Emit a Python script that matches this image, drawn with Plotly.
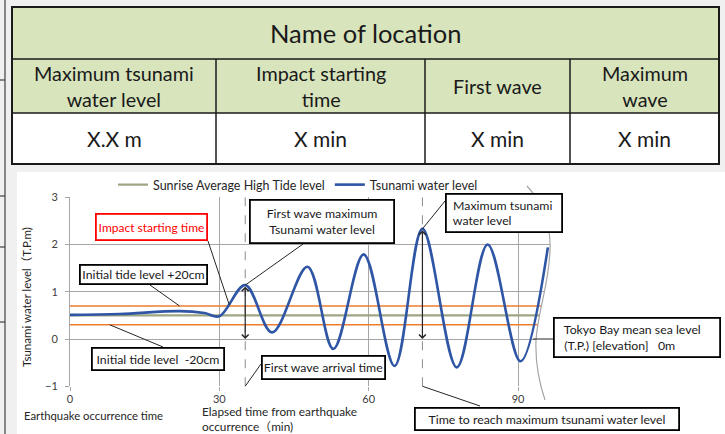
import plotly.graph_objects as go

W, H = 725, 434

# ---------------- data ----------------
time_min = [0, 10, 22, 27, 30, 35.2, 40.6, 47.7, 52.9, 59.0, 65.2, 70.8, 77.7, 83.9, 90.5, 96]
tsunami_level = [0.51, 0.53, 0.59, 0.55, 0.48, 1.14, 0.14, 1.53, -0.21, 1.79, -0.57, 2.33, -0.60, 2.00, -0.47, 1.94]
tide_span = [0, 100]
high_tide_level = [0.5, 0.5]
tide_plus_20cm = [0.7, 0.7]
tide_minus_20cm = [0.3, 0.3]
first_wave_time, first_wave_peak = 35.2, 1.14
max_wave_time, max_wave_peak = 70.8, 2.33
x_ticks = [0, 30, 60, 90]
y_ticks = [-1, 0, 1, 2, 3]
y_tick_text = ["\u22121", "0", "1", "2", "3"]

table_title = "Name of location"
table_headers = ["Maximum tsunami<br>water level", "Impact starting<br>time", "First wave", "Maximum<br>wave"]
table_values = ["X.X m", "X min", "X min", "X min"]

FONT = "Lato, 'Noto Sans CJK JP', sans-serif"
NB = "&nbsp;"

# ---------------- geometry helpers (pixel -> paper) ----------------
def px(x):
    return x / W

def py(y):
    return 1 - y / H

X0, XPM = 70, 448 / 90
Y0, YPU = 339, 47.25

def dx(t):
    return X0 + t * XPM

def dy(v):
    return Y0 - v * YPU

fig = go.Figure()

fig.add_trace(go.Scatter(x=tide_span, y=tide_plus_20cm, mode="lines", showlegend=False,
                         line=dict(color="#ED7D31", width=1.5), hoverinfo="skip"))
fig.add_trace(go.Scatter(x=tide_span, y=tide_minus_20cm, mode="lines", showlegend=False,
                         line=dict(color="#ED7D31", width=1.5), hoverinfo="skip"))
fig.add_trace(go.Scatter(x=tide_span, y=high_tide_level, mode="lines",
                         name="Sunrise Average High Tide level",
                         line=dict(color="#9DA682", width=2.2)))
fig.add_trace(go.Scatter(x=time_min, y=tsunami_level, mode="lines",
                         name="Tsunami water level",
                         line=dict(color="#2F55A5", width=2.6, shape="spline", smoothing=1.0)))

shapes = []
# background pieces
shapes.append(dict(type="rect", xref="paper", yref="paper", x0=px(17), x1=px(725), y0=py(434), y1=py(172),
                   fillcolor="white", line=dict(width=0), layer="below"))
# left edge decoration
shapes.append(dict(type="line", xref="paper", yref="paper", x0=px(5), x1=px(5), y0=py(0), y1=py(434),
                   line=dict(color="#404040", width=1.2), layer="below"))
for yy in [80, 196, 247, 322]:
    shapes.append(dict(type="line", xref="paper", yref="paper", x0=px(0), x1=px(5), y0=py(yy), y1=py(yy),
                       line=dict(color="#404040", width=1.2), layer="below"))

# table
TL, TR, TT, TB = 12, 719, 7, 164
R1, R2 = 59, 113
cols = [12, 216, 425, 570, 719]
shapes.append(dict(type="rect", xref="paper", yref="paper", x0=px(TL), x1=px(TR), y0=py(R2), y1=py(TT),
                   fillcolor="#D8E4BC", line=dict(width=0), layer="below"))
shapes.append(dict(type="rect", xref="paper", yref="paper", x0=px(TL), x1=px(TR), y0=py(TB), y1=py(R2),
                   fillcolor="white", line=dict(width=0), layer="below"))
for yy in [R1, R2]:
    shapes.append(dict(type="line", xref="paper", yref="paper", x0=px(TL), x1=px(TR), y0=py(yy), y1=py(yy),
                       line=dict(color="#1a1a1a", width=1.5)))
for xx in cols[1:-1]:
    shapes.append(dict(type="line", xref="paper", yref="paper", x0=px(xx), x1=px(xx), y0=py(R1), y1=py(TB),
                       line=dict(color="#1a1a1a", width=1.5)))
shapes.append(dict(type="rect", xref="paper", yref="paper", x0=px(TL), x1=px(TR), y0=py(TB), y1=py(TT),
                   line=dict(color="#1a1a1a", width=2)))

# dashed guides at first wave and max wave
for tt in [first_wave_time, max_wave_time]:
    shapes.append(dict(type="line", xref="x", yref="y", x0=tt, x1=tt, y0=-1, y1=3,
                       line=dict(color="#8c8c8c", width=1, dash="dash")))

# white mask to the right of the break
brk = (f"M{px(527)},{py(186)} C{px(545)},{py(205)} {px(551)},{py(230)} {px(550)},{py(250)} "
       f"C{px(549)},{py(285)} {px(538)},{py(310)} {px(536)},{py(340)} "
       f"C{px(535)},{py(365)} {px(540)},{py(385)} {px(545)},{py(400)}")
mask = brk + f" L{px(600)},{py(400)} L{px(600)},{py(186)} Z"
shapes.append(dict(type="path", xref="paper", yref="paper", path=mask, fillcolor="white",
                   line=dict(width=0), layer="above"))
shapes.append(dict(type="path", xref="paper", yref="paper", path=brk,
                   line=dict(color="#a6a6a6", width=1.2), layer="above"))

# leader lines
leaders = [
    ((208, 241), (dx(32), dy(0.72))),
    ((150, 285), (dx(22), dy(0.7))),
    ((163, 347), (dx(8), dy(0.3))),
    ((303, 244), (dx(first_wave_time), dy(first_wave_peak))),
    ((445, 201), (dx(max_wave_time), dy(max_wave_peak))),
    ((261, 364), (dx(first_wave_time), dy(-1))),
    ((dx(max_wave_time), dy(-1)), (480, 406)),
    ((dx(93), dy(0)), (553, 339)),
]
for (a, b) in leaders:
    shapes.append(dict(type="line", xref="paper", yref="paper", x0=px(a[0]), y0=py(a[1]),
                       x1=px(b[0]), y1=py(b[1]), line=dict(color="#262626", width=1), layer="above"))

annotations = []

# vertical double arrows from peaks to mean sea level
for tt, pk in [(first_wave_time, first_wave_peak), (max_wave_time, max_wave_peak)]:
    annotations.append(dict(x=tt, y=0, xref="x", yref="y", ax=tt, ay=pk, axref="x", ayref="y",
                            text="", showarrow=True, arrowhead=4, startarrowhead=4, arrowside="end+start",
                            arrowsize=1.1, startarrowsize=1.1, arrowwidth=1.2, arrowcolor="#262626"))

def box(text, l, t, r, b, color="#000000", align="center", size=12.3, bw=1.8, tcolor=None):
    return dict(x=px(l), y=py(t), xref="paper", yref="paper", xanchor="left", yanchor="top",
                text=text, showarrow=False, width=(r - l) - 2 * bw, height=(b - t) - 2 * bw,
                align=align, valign="middle", bordercolor=color, borderwidth=bw, borderpad=0,
                bgcolor="white", font=dict(family=FONT, size=size, color=tcolor or "#1a1a1a"))

annotations += [
    box("Impact starting time", 95, 213, 208, 241, color="#FF0000", tcolor="#FF0000", size=12),
    box("Initial tide level +20cm", 79, 264, 208, 285),
    box("Initial tide level  -20cm", 91, 347, 225, 371),
    box("First wave maximum<br>Tsunami water level", 249, 199, 395, 244),
    box(NB * 2 + "Maximum tsunami<br>" + NB * 2 + "water level", 445, 193, 563, 233, align="left"),
    box("First wave arrival time", 261, 355, 386, 380),
    box("Time to reach maximum tsunami water level", 414, 407, 680, 431),
    box(NB * 3 + "Tokyo Bay mean sea level<br>" + NB * 3 + "(T.P.) [elevation]" + NB * 3 + "0m",
        553, 317, 721, 358, align="left"),
]

def label(text, x, y, size, xanchor="center", yanchor="middle", **kw):
    d = dict(x=px(x), y=py(y), xref="paper", yref="paper", xanchor=xanchor, yanchor=yanchor,
             text=text, showarrow=False, font=dict(family=FONT, size=size, color=kw.pop("color", "#1a1a1a")))
    d.update(kw)
    return d

# table text
annotations.append(label(table_title, (TL + TR) / 2, (TT + R1) / 2, 25.5))
for i in range(4):
    cx = (cols[i] + cols[i + 1]) / 2
    annotations.append(label(table_headers[i], cx, (R1 + R2) / 2, 19.8))
    annotations.append(label(table_values[i], cx, (R2 + TB) / 2, 21))

# axis titles
annotations.append(label("Tsunami water level\uff08T.P.m)", 26, 297, 11.5, textangle=-90, color="#262626"))
annotations.append(label("Earthquake occurrence time", 22, 415, 11.3, xanchor="left", color="#262626"))
annotations.append(label("Elapsed time from earthquake<br>occurrence\uff08min)", 200, 418.6, 11.8,
                         xanchor="left", align="left", color="#262626"))

fig.update_layout(
    width=W, height=H,
    autosize=False,
    margin=dict(l=0, r=0, t=0, b=0, pad=0, autoexpand=False),
    paper_bgcolor="#F0F0F0",
    plot_bgcolor="rgba(0,0,0,0)",
    shapes=shapes,
    annotations=annotations,
    showlegend=True,
    legend=dict(orientation="h", x=px(113), y=py(185), xanchor="left", yanchor="middle",
                font=dict(family=FONT, size=12.5, color="#262626"), bgcolor="rgba(0,0,0,0)",
                itemwidth=30, traceorder="normal"),
    xaxis=dict(domain=[px(dx(0)), px(dx(100))], range=[0, 100], tickvals=x_ticks, automargin=False,
               ticklabelstandoff=-1,
               showgrid=True, gridcolor="#a6a6a6", gridwidth=1, zeroline=False,
               showline=False, ticks="outside", ticklen=4, tickcolor="#a6a6a6",
               tickfont=dict(family=FONT, size=11, color="#404040")),
    yaxis=dict(domain=[py(dy(-1)), py(dy(3))], range=[-1, 3], tickvals=y_ticks, ticktext=y_tick_text,
               automargin=False, ticklabelstandoff=5,
               showgrid=True, gridcolor="#a6a6a6", gridwidth=1, zeroline=False,
               showline=True, linecolor="#a6a6a6", ticks="outside", ticklen=4, tickcolor="#a6a6a6",
               tickfont=dict(family=FONT, size=11, color="#404040")),
)

fig.write_html("out.html", config={"displayModeBar": False},
               post_script="document.body.style.margin='0';")
